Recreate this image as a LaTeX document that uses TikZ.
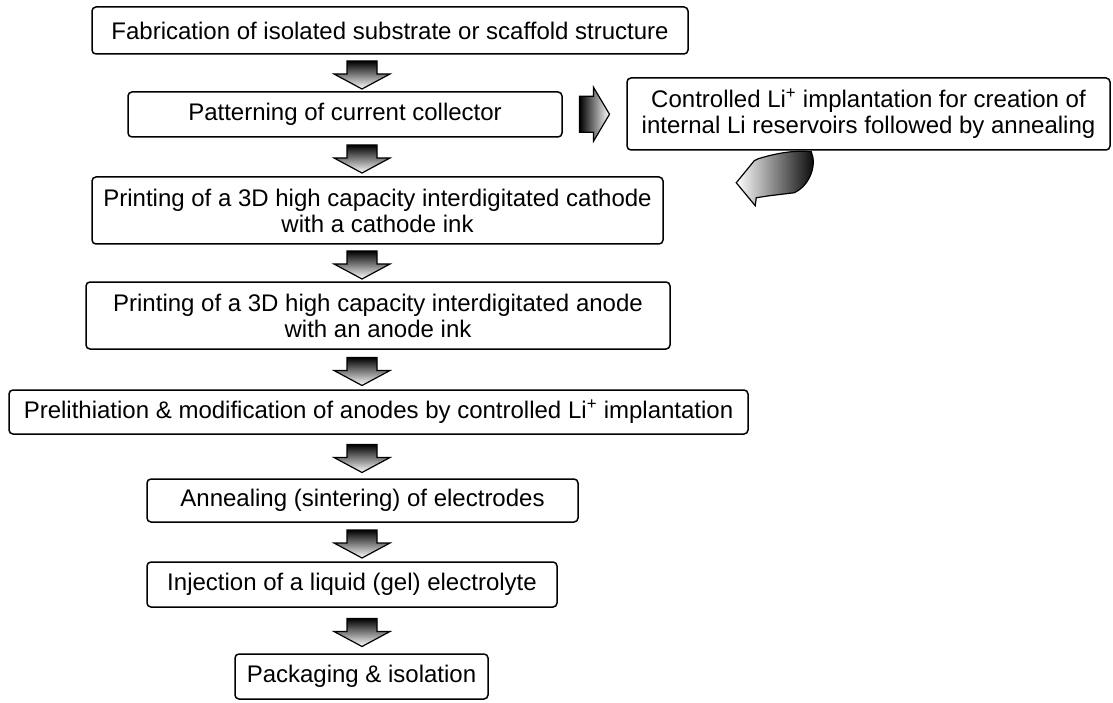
\documentclass[tikz,border=0pt]{standalone}
\usepackage{fontspec}
\setmainfont{Liberation Sans}
\usetikzlibrary{calc}
\tikzset{
  stepbox/.style={draw=black, line width=1.5pt, rounded corners=4pt, align=center,
    font=\fontsize{24}{26}\selectfont, minimum height=45pt, inner sep=3pt},
  downarrow/.pic={
    \shade[top color=black, bottom color=white, draw=black, line width=1.2pt]
      (-15,-14) -- (15,-14) -- (15,-1) -- (28,-1) -- (0,14) -- (-28,-1) -- (-15,-1) -- cycle;
  },
  rightarrow/.pic={
    \shade[left color=black, right color=white, draw=black, line width=1.2pt]
      (-15,-18) -- (-1,-18) -- (-1,-27) -- (15,0) -- (-1,27) -- (-1,18) -- (-15,18) -- cycle;
  }
}
\begin{document}
\begin{tikzpicture}[x=1pt, y=-1pt]
    \useasboundingbox (0,0) rectangle (1113,703);
    \node[stepbox, minimum width=596pt, minimum height=47pt] (fab) at (390,30.5) {Fabrication of isolated substrate or scaffold structure};
    \node[stepbox, minimum width=434pt] (pattern) at (345,114.5) {Patterning of current collector};
    \node[stepbox, minimum width=571pt, minimum height=67pt] (cathode) at (377.5,210.5) {Printing of a 3D high capacity interdigitated cathode\\with a cathode ink};
    \node[stepbox, minimum width=584pt, minimum height=67pt] (anode) at (378,315.5) {Printing of a 3D high capacity interdigitated anode\\with an anode ink};
    \node[stepbox, minimum width=739pt, minimum height=44pt] (prelith) at (378.5,412) {Prelithiation \& modification of anodes by controlled Li\textsuperscript{+} implantation};
    \node[stepbox, minimum width=431pt, minimum height=43pt] (anneal) at (362.5,500.5) {Annealing (sintering) of electrodes};
    \node[stepbox, minimum width=410pt] (inject) at (352,584.5) {Injection of a liquid (gel) electrolyte};
    \node[stepbox, minimum width=253pt] (pack) at (361.5,676.5) {Packaging \& isolation};
    \node[stepbox, minimum width=483pt, minimum height=72pt] (side) at (868.5,114) {Controlled Li\textsuperscript{+} implantation for creation of\\internal Li reservoirs followed by annealing};

    \coordinate (spine) at (362,0);
    \foreach \a/\b in {fab/pattern, pattern/cathode, cathode/anode, anode/prelith, prelith/anneal, anneal/inject, inject/pack}
      \pic at ($(spine |- \a.south)!0.5!(spine |- \b.north)+(0,2)$) {downarrow};
    \pic at ($(pattern.east)!0.5!(side.west)$) {rightarrow};

    \begin{scope}[shift={(side.south west)}]
      \shade[left color=white, right color=black, draw=black, line width=1.2pt]
        (128,10) -- (132,8) .. controls (148,3) and (168,-1) .. (185,1)
        .. controls (191,15) and (183,35) .. (168,42) -- (143,45) -- (130,47)
        -- (129,55) -- (110,32) -- cycle;
    \end{scope}
\end{tikzpicture}
\end{document}
